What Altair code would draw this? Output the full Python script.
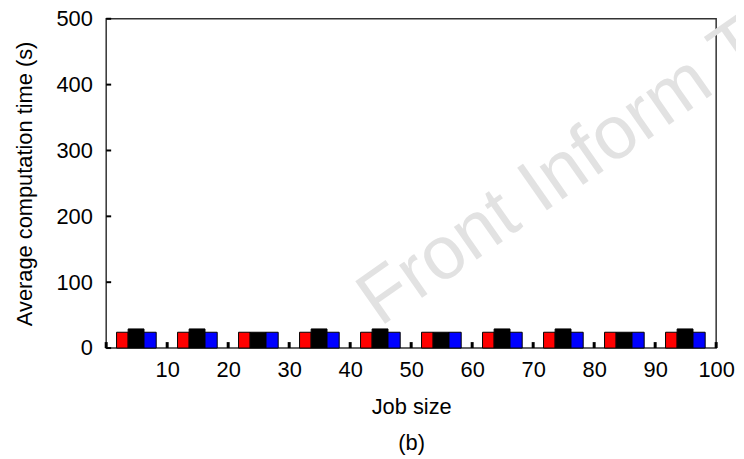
import altair as alt
import pandas as pd

# ---- data ----
job_size_centers = [5, 15, 25, 35, 45, 55, 65, 75, 85, 95]
series_names = ["Red", "Black", "Blue"]
red_values = [24, 24, 24, 24, 24, 24, 24, 24, 24, 24]
black_values = [29, 29, 24, 29, 29, 24, 29, 29, 24, 29]
blue_values = [24, 24, 24, 24, 24, 24, 24, 24, 24, 24]
x_tick_values = [0, 10, 20, 30, 40, 50, 60, 70, 80, 90, 100]
y_tick_values = [0, 100, 200, 300, 400, 500]

# bar placement inside each group (x units, relative to group centre)
bar_start = {"Red": -3.3, "Black": -1.4, "Blue": 1.2}
bar_end = {"Red": -1.4, "Black": 1.2, "Blue": 3.2}

rows = []
for name, vals in zip(series_names, [red_values, black_values, blue_values]):
    for c, v in zip(job_size_centers, vals):
        rows.append({"series": name, "center": c, "value": v,
                     "x0": c + bar_start[name], "x1": c + bar_end[name]})
df = pd.DataFrame(rows)

FONT = "Liberation Sans"

xscale = alt.Scale(domain=[0, 100], nice=False, zero=False)
yscale = alt.Scale(domain=[0, 500], nice=False)

x_axis = alt.Axis(values=x_tick_values, title=["Job size", "(b)"],
                  titleLineHeight=36, titlePadding=16,
                  labelExpr="datum.value == 0 ? '' : datum.label",
                  ticks=False, domain=False, labelFlush=False,
                  labelPadding=12, grid=False)
y_axis = alt.Axis(values=y_tick_values, title="Average computation time (s)",
                  ticks=False, domain=False, labelFlush=False,
                  labelPadding=14, titlePadding=20, grid=False)

bars = alt.Chart(df).mark_bar(stroke="black", strokeWidth=1).encode(
    x=alt.X("x0:Q", scale=xscale, axis=x_axis),
    x2="x1:Q",
    y=alt.Y("value:Q", scale=yscale, axis=y_axis),
    y2=alt.datum(0),
    color=alt.Color("series:N", scale=alt.Scale(domain=series_names,
                                                range=["#ff0000", "#000000", "#0000ff"]),
                    legend=None),
)

# inward tick marks
ytick_rules = alt.Chart(pd.DataFrame({"v": y_tick_values})).mark_rule(
    color="black", strokeWidth=2
).encode(y=alt.Y("v:Q", scale=yscale, axis=y_axis), x=alt.value(0), x2=alt.value(5))

xtick_rules = alt.Chart(pd.DataFrame({"v": x_tick_values})).mark_rule(
    color="black", strokeWidth=3
).encode(x=alt.X("v:Q", scale=xscale, axis=x_axis), y=alt.value(326), y2=alt.value(332))

watermark = alt.Chart(pd.DataFrame({"t": ["Front Inform Technol Electron Eng"]})).mark_text(
    align="left", baseline="alphabetic", angle=325, fontSize=76, font=FONT,
    color="#e2e2e2"
).encode(text="t:N", x=alt.value(276), y=alt.value(311))

chart = alt.layer(watermark, bars, ytick_rules, xtick_rules).properties(
    width=615, height=332,
    autosize=alt.AutoSizeParams(type="none"),
    padding={"left": 99, "top": 9, "right": 20, "bottom": 108},
).configure_view(
    stroke="#333333", strokeWidth=1.5
).configure_axis(
    labelFont=FONT, titleFont=FONT, labelFontSize=22, titleFontSize=22,
    labelColor="black", titleColor="black",
    titleFontWeight="normal",
)

chart.save("out.html", embed_options={"renderer": "svg", "actions": False})
